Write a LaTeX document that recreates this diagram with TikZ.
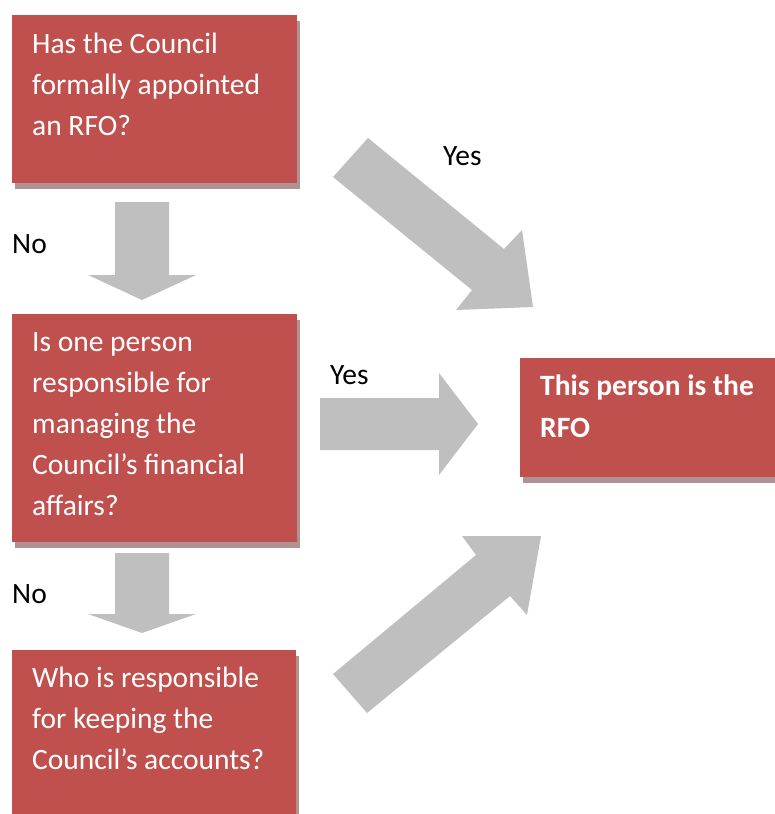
\documentclass[tikz,border=0pt]{standalone}
\usepackage{fontspec}
\setmainfont{Carlito}
\usepackage{tikz}
\usetikzlibrary{shadows}

\definecolor{boxred}{RGB}{192,80,77}
\definecolor{boxshadow}{RGB}{176,146,146}
\definecolor{arrowgrey}{RGB}{191,191,191}

\begin{document}
\begin{tikzpicture}[
    x=1pt, y=-1pt,
    font=\fontsize{29.5}{41}\selectfont,
    qbox/.style={fill=boxred, inner sep=0pt, anchor=north west,
      drop shadow={shadow xshift=2.5pt, shadow yshift=-5.5pt, fill=boxshadow, opacity=1}},
    qtext/.style={text=white, align=left, inner sep=0pt, anchor=base west},
    lbl/.style={text=black, inner sep=0pt, anchor=base west},
    garrow/.style={fill=arrowgrey},
  ]
    \useasboundingbox (0,0) rectangle (775,814);
    \clip (0,0) rectangle (775,814);

    % question boxes
    \node[qbox, minimum width=285pt, minimum height=168pt] (q1) at (12,15) {};
    \node[qbox, minimum width=285pt, minimum height=228pt] (q2) at (12,314) {};
    \node[qbox, minimum width=284pt, minimum height=180pt] (q3) at (12,650) {};
    \node[qbox, minimum width=280pt, minimum height=119pt] (rfo) at (520,358) {};

    % text anchored on its last baseline
    \node[qtext] (q1txt) at ([shift={(20,120)}]q1.north west)
      {Has the Council\\formally appointed\\an RFO?};
    \node[qtext] (q2txt) at ([shift={(20,201)}]q2.north west)
      {Is one person\\responsible for\\managing the\\Council’s financial\\affairs?};
    \node[qtext] (q3txt) at ([shift={(20,119)}]q3.north west)
      {Who is responsible\\for keeping the\\Council’s accounts?};
    \node[qtext, font=\fontsize{29.5}{42}\selectfont\bfseries] (rfotxt) at ([shift={(20,79)}]rfo.north west)
      {This person is the\\RFO};

    % block arrows
    \fill[garrow] (115,202) -- (169,202) -- (169,275) -- (196,275) -- (142,300) -- (88,275) -- (115,275) -- cycle;
    \fill[garrow] (115,553) -- (169,553) -- (169,614) -- (196,614) -- (142,633) -- (88,614) -- (115,614) -- cycle;
    \fill[garrow] (320,398) -- (439,398) -- (439,373) -- (478,424) -- (439,475) -- (439,450) -- (320,450) -- cycle;
    \fill[garrow] (333,177) -- (368,138) -- (504,249) -- (522,230) -- (533,307) -- (456,310) -- (472,290) -- cycle;
    \fill[garrow] (333,674) -- (476,555) -- (462,536) -- (541,536) -- (527,615) -- (510,596) -- (367,713) -- cycle;

    % labels
    \node[lbl] (yes1) at (443,165) {Yes};
    \node[lbl] (no1)  at (12,253) {No};
    \node[lbl] (yes2) at (330,384) {Yes};
    \node[lbl] (no2)  at (12,603) {No};
\end{tikzpicture}
\end{document}
